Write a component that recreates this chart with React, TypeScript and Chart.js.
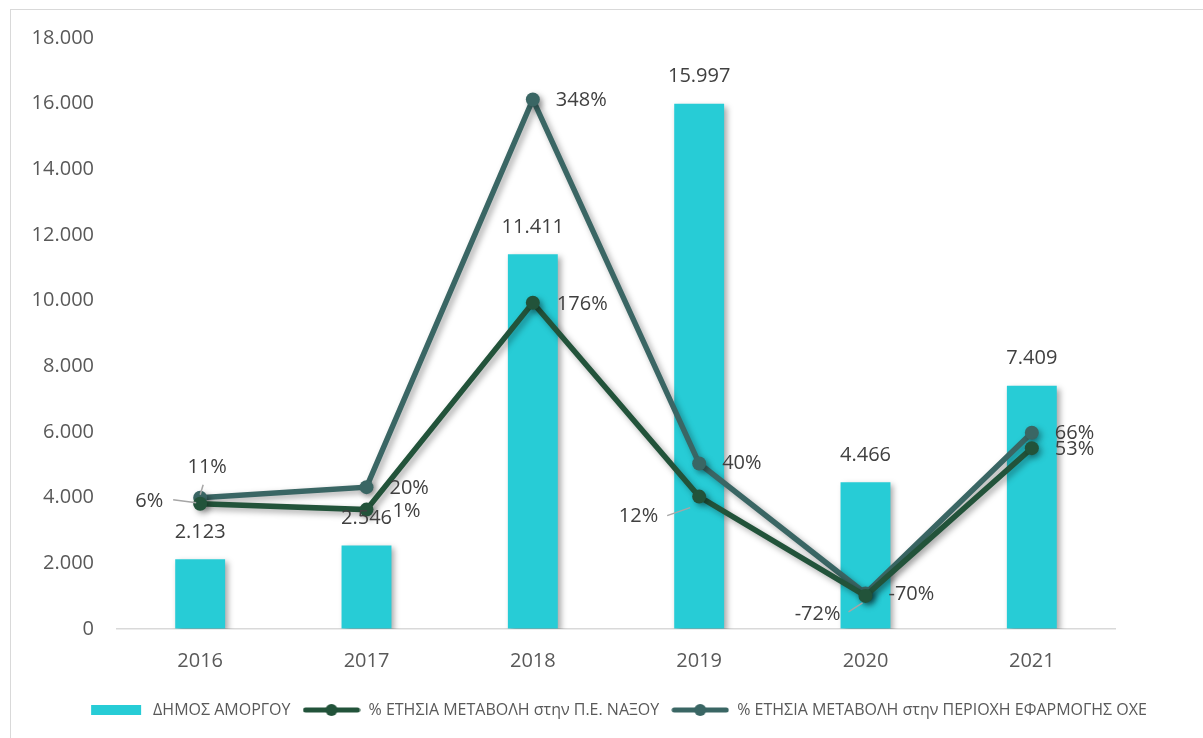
import React, { useEffect, useRef } from "react";
import { Chart, registerables } from "chart.js";

Chart.register(...registerables);

const categories = ["2016", "2017", "2018", "2019", "2020", "2021"];
const amorgosValues = [2123, 2546, 11411, 15997, 4466, 7409];
const naxosPct = [6, 1, 176, 12, -72, 53];
const oxePct = [11, 20, 348, 40, -70, 66];

const seriesNames = [
  "ΔΗΜΟΣ ΑΜΟΡΓΟΥ",
  "% ΕΤΗΣΙΑ ΜΕΤΑΒΟΛΗ στην Π.Ε. ΝΑΞΟΥ",
  "% ΕΤΗΣΙΑ ΜΕΤΑΒΟΛΗ στην ΠΕΡΙΟΧΗ ΕΦΑΡΜΟΓΗΣ ΟΧΕ",
];

const BAR_COLOR = "#27CCD6";
const NAXOS_COLOR = "#22533A";
const OXE_COLOR = "#3A6664";
const FONT = "'Open Sans', 'Noto Sans', sans-serif";

type Place = { align: CanvasTextAlign; dx: number; dy: number; leader?: number[] };

// label placement offsets relative to each point (styling, not data)
const naxosPlace: Place[] = [
  { align: "right", dx: -37, dy: -2, leader: [-27, -4, -4, -1] },
  { align: "left", dx: 26, dy: 2 },
  { align: "left", dx: 24, dy: 2 },
  { align: "right", dx: -41, dy: 20, leader: [-32, 19, -9, 11] },
  { align: "right", dx: -25, dy: 18, leader: [-17, 16, -3, 7] },
  { align: "left", dx: 23, dy: 1 },
];
const oxePlace: Place[] = [
  { align: "center", dx: 7, dy: -31, leader: [3, -13, 0, -3] },
  { align: "left", dx: 23, dy: 1 },
  { align: "left", dx: 23, dy: 1 },
  { align: "left", dx: 23, dy: 0 },
  { align: "left", dx: 23, dy: 1 },
  { align: "left", dx: 23, dy: 1 },
];

const fmtThousands = (v: number) =>
  String(Math.round(v)).replace(/\B(?=(\d{3})+(?!\d))/g, ".");

function makeSwatch(kind: "bar" | "line", color: string): HTMLCanvasElement {
  const c = document.createElement("canvas");
  c.width = 58;
  c.height = 16;
  const g = c.getContext("2d")!;
  if (kind === "bar") {
    g.fillStyle = color;
    g.fillRect(4, 3, 50, 10);
  } else {
    g.strokeStyle = color;
    g.lineWidth = 5;
    g.lineCap = "round";
    g.beginPath();
    g.moveTo(3, 8);
    g.lineTo(55, 8);
    g.stroke();
    g.fillStyle = color;
    g.beginPath();
    g.arc(29, 8, 6, 0, Math.PI * 2);
    g.fill();
  }
  return c;
}

const shadowPlugin = {
  id: "shadowPlugin",
  beforeDatasetDraw(chart: any) {
    const ctx = chart.ctx;
    ctx.save();
    ctx.shadowColor = "rgba(0,0,0,0.35)";
    ctx.shadowBlur = 6;
    ctx.shadowOffsetX = 3;
    ctx.shadowOffsetY = 3;
  },
  afterDatasetDraw(chart: any) {
    chart.ctx.restore();
  },
};

const labelPlugin = {
  id: "labelPlugin",
  afterDatasetsDraw(chart: any) {
    const ctx = chart.ctx;
    ctx.save();
    ctx.font = `20px ${FONT}`;
    ctx.fillStyle = "#404040";
    ctx.textBaseline = "middle";
    const barMeta = chart.getDatasetMeta(0);
    barMeta.data.forEach((el: any, i: number) => {
      ctx.textAlign = "center";
      ctx.fillText(fmtThousands(amorgosValues[i]), el.x, el.y - 27);
    });
    const lineSets: [number, number[], Place[]][] = [
      [1, naxosPct, naxosPlace],
      [2, oxePct, oxePlace],
    ];
    lineSets.forEach(([idx, vals, places]) => {
      const meta = chart.getDatasetMeta(idx);
      meta.data.forEach((el: any, i: number) => {
        const p = places[i];
        if (p.leader) {
          ctx.strokeStyle = "#A6A6A6";
          ctx.lineWidth = 1.5;
          ctx.beginPath();
          ctx.moveTo(el.x + p.leader[0], el.y + p.leader[1]);
          ctx.lineTo(el.x + p.leader[2], el.y + p.leader[3]);
          ctx.stroke();
        }
        ctx.textAlign = p.align;
        ctx.fillText(`${vals[i]}%`, el.x + p.dx, el.y + p.dy);
      });
    });
    ctx.restore();
  },
};

export default function App() {
  const ref = useRef<HTMLCanvasElement | null>(null);

  useEffect(() => {
    if (!ref.current) return;
    const swatches = [
      makeSwatch("bar", BAR_COLOR),
      makeSwatch("line", NAXOS_COLOR),
      makeSwatch("line", OXE_COLOR),
    ];
    const chart = new Chart(ref.current, {
      type: "bar",
      data: {
        labels: categories,
        datasets: [
          {
            type: "bar",
            label: seriesNames[0],
            data: amorgosValues,
            backgroundColor: BAR_COLOR,
            barPercentage: 0.3,
            categoryPercentage: 1,
            yAxisID: "y",
            order: 3,
          },
          {
            type: "line",
            label: seriesNames[1],
            data: naxosPct,
            borderColor: NAXOS_COLOR,
            backgroundColor: NAXOS_COLOR,
            borderWidth: 5.5,
            pointRadius: 7,
            pointBackgroundColor: NAXOS_COLOR,
            pointBorderWidth: 0,
            yAxisID: "y2",
            order: 1,
          } as any,
          {
            type: "line",
            label: seriesNames[2],
            data: oxePct,
            borderColor: OXE_COLOR,
            backgroundColor: OXE_COLOR,
            borderWidth: 5.5,
            pointRadius: 7,
            pointBackgroundColor: OXE_COLOR,
            pointBorderWidth: 0,
            yAxisID: "y2",
            order: 2,
          } as any,
        ],
      },
      options: {
        responsive: false,
        animation: false,
        devicePixelRatio: 1,
        layout: { padding: { left: 20, right: 0, top: 28, bottom: 10 } },
        scales: {
          x: {
            grid: { display: false, drawTicks: false },
            border: { display: true, color: "#D9D9D9", width: 1.5 },
            ticks: { color: "#595959", font: { size: 20, family: FONT }, padding: 20 },
            afterFit: (s: any) => {
              s.height = 61;
            },
          },
          y: {
            min: 0,
            max: 18000,
            grid: { display: true, color: "transparent", drawTicks: true, tickLength: 11 },
            border: { display: false },
            ticks: {
              stepSize: 2000,
              color: "#595959",
              font: { size: 20, family: FONT },
              padding: 12,
              callback: (v: any) => fmtThousands(Number(v)),
            },
            afterFit: (s: any) => {
              s.width = 86;
            },
          },
          y2: {
            display: true,
            position: "right",
            min: -100,
            max: 400,
            grid: { display: false, drawTicks: false },
            border: { display: false },
            ticks: { display: false },
            afterFit: (s: any) => {
              s.width = 88;
            },
          },
        },
        plugins: {
          tooltip: { enabled: false },
          legend: {
            position: "bottom",
            labels: {
              usePointStyle: true,
              pointStyleWidth: 58,
              boxHeight: 16,
              padding: 12,
              color: "#595959",
              font: { size: 16, family: FONT },
              generateLabels: () =>
                seriesNames.map((t, i) => ({
                  text: t,
                  pointStyle: swatches[i] as any,
                  fillStyle: "transparent",
                  strokeStyle: "transparent",
                  lineWidth: 0,
                  hidden: false,
                  datasetIndex: i,
                  fontColor: "#595959",
                })),
            },
          },
        },
      },
      plugins: [shadowPlugin, labelPlugin],
    });
    return () => chart.destroy();
  }, []);

  return (
    <div
      style={{
        position: "absolute",
        left: 10,
        top: 9,
        width: 1200,
        height: 740,
        border: "1px solid #D9D9D9",
        background: "#fff",
      }}
    >
      <canvas ref={ref} width={1192} height={728} style={{ display: "block", width: 1192, height: 728 }} />
    </div>
  );
}
